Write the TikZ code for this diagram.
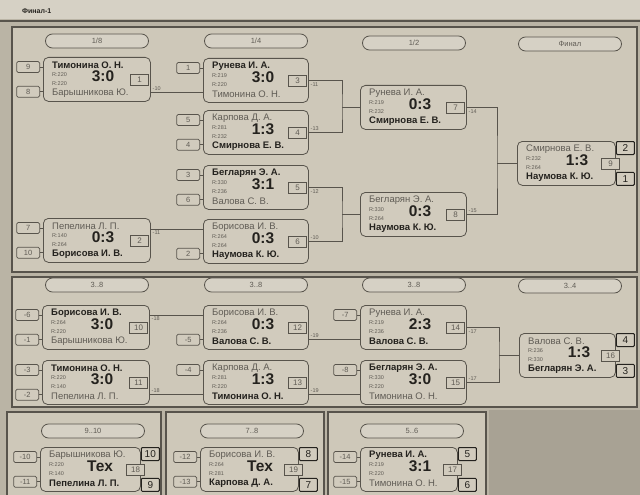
\documentclass[tikz,border=0pt]{standalone}
\usepackage{fontspec}
\setmainfont{Liberation Sans}
\usetikzlibrary{positioning,calc}
\definecolor{fondo}{RGB}{186,180,165}
\definecolor{panel}{RGB}{206,200,185}
\definecolor{caja}{RGB}{209,203,189}
\definecolor{banda}{RGB}{214,209,197}
\definecolor{sombra}{RGB}{168,162,148}
\definecolor{trazo}{RGB}{88,84,76}
\definecolor{tinta}{RGB}{36,34,30}
\definecolor{gris}{RGB}{96,92,85}
\tikzset{
  marco/.style={draw=trazo, line width=1.8pt, fill=panel},
  ronda/.style={rectangle, draw=trazo, line width=0.8pt, rounded corners=7pt, fill=banda,
    minimum width=103pt, minimum height=14pt, inner sep=0pt, font=\fontsize{7.5}{8}\selectfont, text=gris},
  mbox/.style={rectangle, draw=trazo, line width=0.8pt, fill=caja, rounded corners=5pt,
    minimum height=44pt, inner sep=0pt},
  pname/.style={inner sep=0pt, font=\fontsize{9.5}{10}\selectfont, text=gris},
  prating/.style={inner sep=0pt, font=\fontsize{5.5}{6}\selectfont, text=gris},
  pscore/.style={inner sep=0pt, font=\fontsize{15.5}{16}\selectfont\bfseries, text=tinta},
  nbox/.style={rectangle, draw=trazo, line width=0.6pt, fill=caja, minimum width=18pt,
    minimum height=11pt, inner sep=0pt, font=\fontsize{8}{8}\selectfont, text=gris},
  pbox/.style={rectangle, draw=tinta, line width=1pt, fill=caja, rounded corners=1pt,
    minimum width=18pt, minimum height=13pt, inner sep=0pt, font=\fontsize{10}{10}\selectfont, text=tinta},
  seed/.style={rectangle, draw=trazo, line width=0.7pt, rounded corners=1.5pt, fill=caja,
    minimum width=23pt, minimum height=11pt, inner sep=0pt, font=\fontsize{7.5}{8}\selectfont, text=gris},
  linea/.style={draw=trazo, line width=0.8pt},
  lbl/.style={inner sep=1.5pt, font=\fontsize{5.5}{6}\selectfont, text=gris},
  numpos/.style={}
}
% ganador en negrita
\newcommand{\gan}[1]{\textcolor{tinta}{\bfseries #1}}
% #1 nombre, #2 esquina, #3 ancho, #4/#7 jugadores, #5/#6 rating, #8 marcador, #9 partido
\newcommand{\partido}[9]{%
  \node[mbox, minimum width=#3pt, anchor=north west] (#1) at (#2) {};
  \coordinate (#1-a) at ($(#1.north west)+(0,10)$);
  \coordinate (#1-b) at ($(#1.south west)+(0,-10)$);
  \node[pname, anchor=west] (#1-j1) at ($(#1.north west)+(9,8)$) {#4};
  \node[prating, anchor=west] (#1-r1) at ($(#1.north west)+(9,17.5)$) {#5};
  \node[prating, anchor=west] (#1-r2) at ($(#1.north west)+(9,26.5)$) {#6};
  \node[pname, anchor=west] (#1-j2) at ($(#1.south west)+(9,-9)$) {#7};
  \node[pscore] (#1-sc) at ($(#1.north west)+(60,19)$) {#8};
  \node[nbox, anchor=east, numpos] (#1-n) at ($(#1.east)+(-2,0)$) {#9};
}
\newcommand{\semilla}[2]{%
  \node[seed, left=3pt of #1] (#1-s) {#2};
  \draw[linea] (#1-s.east) -- (#1);
}
\newcommand{\lugares}[3]{%
  \node[pbox, anchor=north west] (#1-p1) at (#1.north east) {#2};
  \node[pbox, anchor=south west] (#1-p2) at (#1.south east) {#3};
}
\begin{document}
\begin{tikzpicture}[x=1pt,y=-1pt]
  \useasboundingbox (0,0) rectangle (640,495);
  \clip (0,0) rectangle (640,495);
  % Fondo y paneles
  \fill[fondo] (0,0) rectangle (640,495);
  \fill[banda] (0,0) rectangle (640,19);
  \draw[trazo, line width=1.5pt] (0,21) -- (640,21);
  \node[anchor=west, inner sep=0pt, font=\fontsize{7}{7}\selectfont\bfseries, text=tinta] (titulo) at (22,11) {Финал-1};
  \draw[marco] (12,27) rectangle (637,272);
  \draw[marco] (12,277) rectangle (637,407);
  \fill[sombra] (489,410) rectangle (640,495);
  \draw[marco] (7,412) rectangle (161,505);
  \draw[marco] (166,412) rectangle (324,505);
  \draw[marco] (328,412) rectangle (486,505);

  % Rondas
  \node[ronda] (r8)  at (97,41)  {1/8};
  \node[ronda] (r4)  at (256,41) {1/4};
  \node[ronda] (r2)  at (414,43) {1/2};
  \node[ronda] (rf)  at (570,44) {Финал};
  \node[ronda] (c1)  at (97,285)  {3..8};
  \node[ronda] (c2)  at (256,285) {3..8};
  \node[ronda] (c3)  at (414,285) {3..8};
  \node[ronda] (c4)  at (570,286) {3..4};
  \node[ronda] (b1)  at (93,431)  {9..10};
  \node[ronda] (b2)  at (252,431) {7..8};
  \node[ronda] (b3)  at (412,431) {5..6};

  % Panel principal
  \partido{m1}{43,57}{107}{\gan{Тимонина О. Н.}}{R:220}{R:220}{Барышникова Ю.}{3:0}{1}
  \partido{m2}{43,218}{107}{Пепелина Л. П.}{R:140}{R:264}{\gan{Борисова И. В.}}{0:3}{2}
  \partido{q1}{203,58}{105}{\gan{Рунева И. А.}}{R:219}{R:220}{Тимонина О. Н.}{3:0}{3}
  \partido{q2}{203,110}{105}{Карпова Д. А.}{R:281}{R:232}{\gan{Смирнова Е. В.}}{1:3}{4}
  \partido{q3}{203,165}{105}{\gan{Бегларян Э. А.}}{R:330}{R:236}{Валова С. В.}{3:1}{5}
  \partido{q4}{203,219}{105}{Борисова И. В.}{R:264}{R:264}{\gan{Наумова К. Ю.}}{0:3}{6}
  \partido{s1}{360,85}{106}{Рунева И. А.}{R:219}{R:232}{\gan{Смирнова Е. В.}}{0:3}{7}
  \partido{s2}{360,192}{106}{Бегларян Э. А.}{R:330}{R:264}{\gan{Наумова К. Ю.}}{0:3}{8}
  \begin{scope}[numpos/.style={xshift=6pt}]
    \partido{f}{517,141}{98}{Смирнова Е. В.}{R:232}{R:264}{\gan{Наумова К. Ю.}}{1:3}{9}
  \end{scope}
  \lugares{f}{2}{1}

  \semilla{m1-a}{9} \semilla{m1-b}{8}
  \semilla{m2-a}{7} \semilla{m2-b}{10}
  \semilla{q1-a}{1}
  \semilla{q2-a}{5} \semilla{q2-b}{4}
  \semilla{q3-a}{3} \semilla{q3-b}{6}
  \semilla{q4-b}{2}

  \draw[linea] (m1.east |- q1-b) node[lbl, above right] {-10} -- (q1-b);
  \draw[linea] (m2.east |- q4-a) node[lbl, below right] {-11} -- (q4-a);
  \coordinate (k1) at ([xshift=-18pt]s1.west);
  \coordinate (k2) at ([xshift=-18pt]s2.west);
  \coordinate (k3) at ([xshift=-20pt]f.west);
  \draw[linea] (q1.east) node[lbl, below right] {-11} -| (k1) |- (q2.east);
  \draw[linea] (q2.east) node[lbl, above right] {-13} -- (k1 |- q2.east);
  \draw[linea] (k1) -- (s1.west);
  \draw[linea] (q3.east) node[lbl, below right] {-12} -| (k2) |- (q4.east);
  \draw[linea] (q4.east) node[lbl, above right] {-10} -- (k2 |- q4.east);
  \draw[linea] (k2) -- (s2.west);
  \draw[linea] (s1.east) node[lbl, below right] {-14} -| (k3) |- (s2.east);
  \draw[linea] (s2.east) node[lbl, above right] {-15} -- (k3 |- s2.east);
  \draw[linea] (k3) -- (f.west);

  % Panel 3..8
  \partido{m10}{42,305}{107}{\gan{Борисова И. В.}}{R:264}{R:220}{Барышникова Ю.}{3:0}{10}
  \partido{m11}{42,360}{107}{\gan{Тимонина О. Н.}}{R:220}{R:140}{Пепелина Л. П.}{3:0}{11}
  \partido{m12}{203,305}{105}{Борисова И. В.}{R:264}{R:236}{\gan{Валова С. В.}}{0:3}{12}
  \partido{m13}{203,360}{105}{Карпова Д. А.}{R:281}{R:220}{\gan{Тимонина О. Н.}}{1:3}{13}
  \partido{m14}{360,305}{106}{Рунева И. А.}{R:219}{R:236}{\gan{Валова С. В.}}{2:3}{14}
  \partido{m15}{360,360}{106}{\gan{Бегларян Э. А.}}{R:330}{R:220}{Тимонина О. Н.}{3:0}{15}
  \begin{scope}[numpos/.style={xshift=6pt}]
    \partido{m16}{519,333}{96}{Валова С. В.}{R:236}{R:330}{\gan{Бегларян Э. А.}}{1:3}{16}
  \end{scope}
  \lugares{m16}{4}{3}

  \semilla{m10-a}{-6} \semilla{m10-b}{-1}
  \semilla{m11-a}{-3} \semilla{m11-b}{-2}
  \semilla{m12-b}{-5}
  \semilla{m13-a}{-4}
  \semilla{m14-a}{-7}
  \semilla{m15-a}{-8}

  \draw[linea] (m10.east |- m12-a) node[lbl, below right] {-18} -- (m12-a);
  \draw[linea] (m11.east |- m13-b) node[lbl, above right] {-18} -- (m13-b);
  \draw[linea] (m12.east |- m14-b) node[lbl, above right] {-19} -- (m14-b);
  \draw[linea] (m13.east |- m15-b) node[lbl, above right] {-19} -- (m15-b);
  \coordinate (k4) at ([xshift=-20pt]m16.west);
  \draw[linea] (m14.east) node[lbl, below right] {-17} -| (k4) |- (m15.east);
  \draw[linea] (m15.east) node[lbl, above right] {-17} -- (k4 |- m15.east);
  \draw[linea] (k4) -- (m16.west);

  % Paneles de abajo
  \begin{scope}[numpos/.style={xshift=6pt}]
    \partido{m18}{40,447}{100}{Барышникова Ю.}{R:220}{R:140}{\gan{Пепелина Л. П.}}{Тех}{18}
    \partido{m19}{200,447}{98}{Борисова И. В.}{R:264}{R:281}{\gan{Карпова Д. А.}}{Тех}{19}
    \partido{m17}{360,447}{97}{\gan{Рунева И. А.}}{R:219}{R:220}{Тимонина О. Н.}{3:1}{17}
  \end{scope}
  \lugares{m18}{10}{9}
  \lugares{m19}{8}{7}
  \lugares{m17}{5}{6}
  \semilla{m18-a}{-10} \semilla{m18-b}{-11}
  \semilla{m19-a}{-12} \semilla{m19-b}{-13}
  \semilla{m17-a}{-14} \semilla{m17-b}{-15}
\end{tikzpicture}
\end{document}
